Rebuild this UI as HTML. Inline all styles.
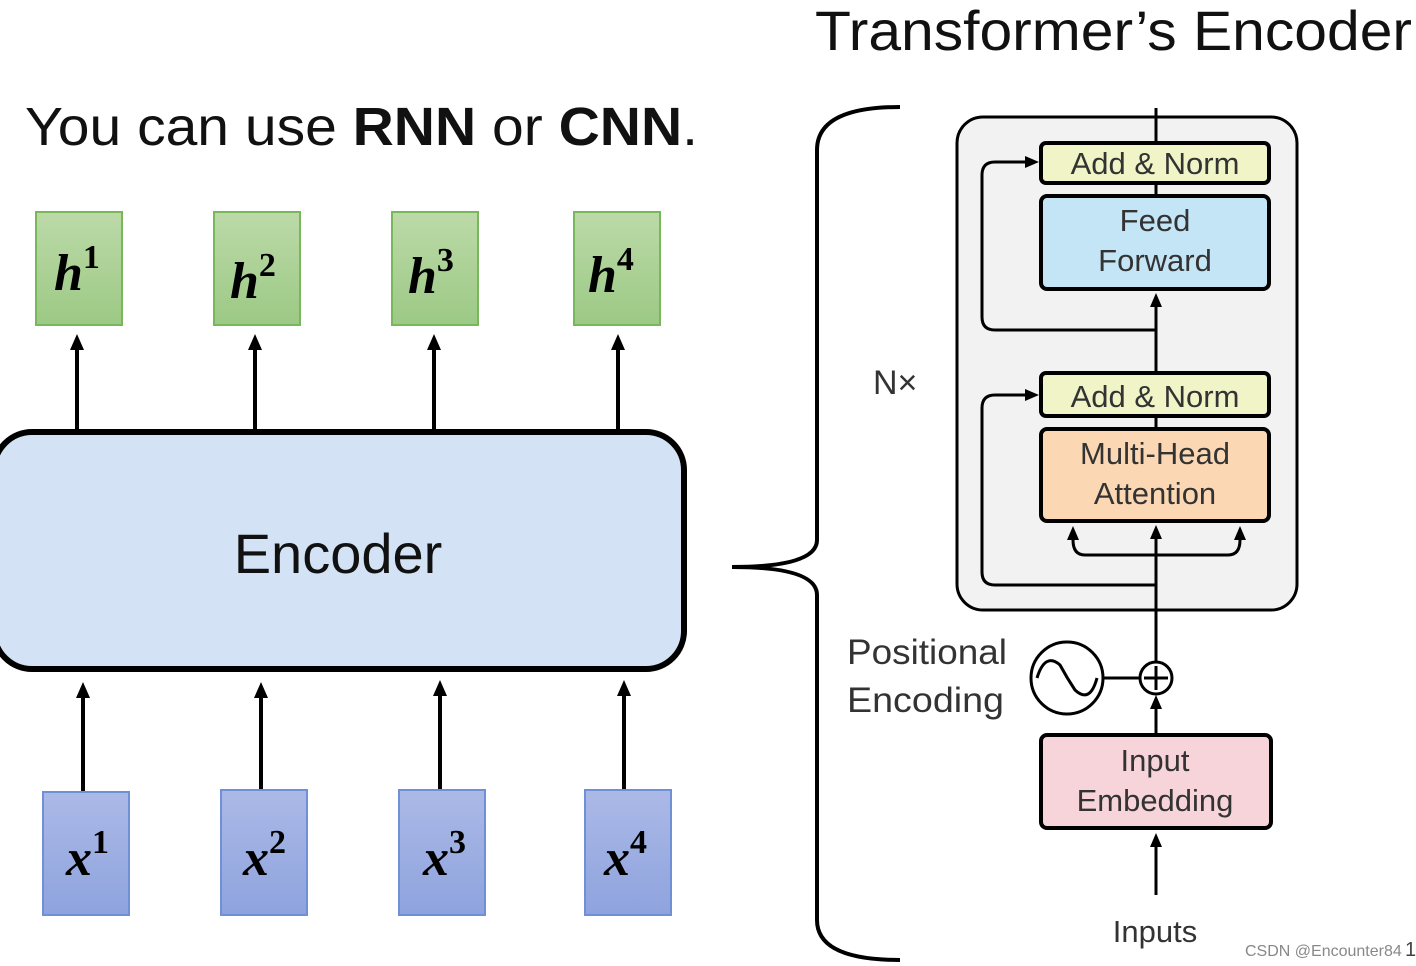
<!DOCTYPE html>
<html><head><meta charset="utf-8"><style>
html,body{margin:0;padding:0;background:#fff;width:1416px;height:966px;overflow:hidden}
svg{display:block}
</style></head><body>
<svg width="1416" height="966" viewBox="0 0 1416 966" xmlns="http://www.w3.org/2000/svg">
<defs>
<marker id="a" markerWidth="14" markerHeight="14" refX="7" refY="7" orient="auto" markerUnits="userSpaceOnUse"><path d="M0,1 L14,7 L0,13 z" fill="#000"/></marker>
<marker id="b" markerWidth="16" markerHeight="16" refX="8" refY="8" orient="auto" markerUnits="userSpaceOnUse"><path d="M0,1 L16,8 L0,15 z" fill="#000"/></marker>
<linearGradient id="g" x1="0" y1="0" x2="0" y2="1"><stop offset="0" stop-color="#bcdaa8"/><stop offset="1" stop-color="#9cc985"/></linearGradient>
<linearGradient id="bl" x1="0" y1="0" x2="0" y2="1"><stop offset="0" stop-color="#abb9e6"/><stop offset="1" stop-color="#8ea3de"/></linearGradient>
</defs>
<text x="815" y="50" font-family="Liberation Sans, sans-serif" font-size="56" fill="#111" textLength="597" lengthAdjust="spacingAndGlyphs">Transformer’s Encoder</text>
<text x="25" y="145" font-family="Liberation Sans, sans-serif" font-size="54" fill="#111" textLength="673" lengthAdjust="spacingAndGlyphs">You can use <tspan font-weight="bold">RNN</tspan> or <tspan font-weight="bold">CNN</tspan>.</text>

<g stroke="#78b85a" stroke-width="2" fill="url(#g)">
<rect x="36" y="212" width="86" height="113"/><rect x="214" y="212" width="86" height="113"/><rect x="392" y="212" width="86" height="113"/><rect x="574" y="212" width="86" height="113"/>
</g>
<g font-family="Liberation Serif, serif" font-style="italic" font-weight="bold" font-size="52" fill="#000">
<text x="54" y="290">h<tspan font-style="normal" font-size="34" dy="-22">1</tspan></text>
<text x="230" y="298">h<tspan font-style="normal" font-size="34" dy="-22">2</tspan></text>
<text x="408" y="293">h<tspan font-style="normal" font-size="34" dy="-22">3</tspan></text>
<text x="588" y="292">h<tspan font-style="normal" font-size="34" dy="-22">4</tspan></text>
</g>
<g stroke="#000" stroke-width="4" marker-end="url(#b)">
<line x1="77" y1="430" x2="77" y2="342"/><line x1="255" y1="430" x2="255" y2="342"/><line x1="434" y1="430" x2="434" y2="342"/><line x1="618" y1="430" x2="618" y2="342"/>
<line x1="83" y1="792" x2="83" y2="690"/><line x1="261" y1="790" x2="261" y2="690"/><line x1="440" y1="790" x2="440" y2="688"/><line x1="624" y1="790" x2="624" y2="688"/>
</g>
<rect x="-6" y="432" width="690" height="237" rx="38" fill="#d3e3f5" stroke="#000" stroke-width="6"/>
<text x="338" y="573" text-anchor="middle" font-family="Liberation Sans, sans-serif" font-size="56" fill="#111">Encoder</text>

<g stroke="#6f8fd6" stroke-width="2" fill="url(#bl)">
<rect x="43" y="792" width="86" height="123"/><rect x="221" y="790" width="86" height="125"/><rect x="399" y="790" width="86" height="125"/><rect x="585" y="790" width="86" height="125"/>
</g>
<g font-family="Liberation Serif, serif" font-style="italic" font-weight="bold" font-size="52" fill="#000">
<text x="66" y="875">x<tspan font-style="normal" font-size="34" dy="-22">1</tspan></text>
<text x="243" y="875">x<tspan font-style="normal" font-size="34" dy="-22">2</tspan></text>
<text x="423" y="875">x<tspan font-style="normal" font-size="34" dy="-22">3</tspan></text>
<text x="604" y="875">x<tspan font-style="normal" font-size="34" dy="-22">4</tspan></text>
</g>

<path d="M900,107 Q817,107 817,150 L817,540 Q817,567 732,567 Q817,567 817,595 L817,920 Q817,960 900,960" fill="none" stroke="#000" stroke-width="4"/>
<text x="873" y="394" font-family="Liberation Sans, sans-serif" font-size="34" fill="#333">N×</text>

<rect x="957" y="117" width="340" height="493" rx="26" fill="#f2f2f2" stroke="#000" stroke-width="3"/>
<g stroke="#000" stroke-width="3" fill="none">
<line x1="1156" y1="108" x2="1156" y2="143"/>
<line x1="1156" y1="183" x2="1156" y2="196"/>
<line x1="1156" y1="416" x2="1156" y2="429"/>
<line x1="1156" y1="373" x2="1156" y2="300" marker-end="url(#a)"/>
<path d="M1156,330 L995,330 Q982,330 982,317 L982,175 Q982,162 995,162 L1032,162" marker-end="url(#a)"/>
<path d="M1156,585 L995,585 Q982,585 982,572 L982,408 Q982,395 995,395 L1032,395" marker-end="url(#a)"/>
<line x1="1156" y1="662" x2="1156" y2="532" marker-end="url(#a)"/>
<path d="M1156,555 L1085,555 Q1073,555 1073,540 L1073,533" marker-end="url(#a)"/>
<path d="M1156,555 L1228,555 Q1240,555 1240,540 L1240,533" marker-end="url(#a)"/>
<line x1="1156" y1="735" x2="1156" y2="702" marker-end="url(#a)"/>
<line x1="1156" y1="895" x2="1156" y2="840" marker-end="url(#a)"/>
<line x1="1103" y1="678" x2="1140" y2="678"/>
<circle cx="1067" cy="678" r="36"/>
<path d="M1037,678 Q1045,652 1060,665 Q1067,678 1075,690 Q1090,704 1097,678"/>
<circle cx="1156" cy="678" r="16"/>
<line x1="1144" y1="678" x2="1168" y2="678"/><line x1="1156" y1="666" x2="1156" y2="690"/>
</g>
<g stroke="#000" stroke-width="4">
<rect x="1041" y="143" width="228" height="40" rx="5" fill="#f1f4c6"/>
<rect x="1041" y="196" width="228" height="93" rx="6" fill="#c3e5f6"/>
<rect x="1041" y="373" width="228" height="43" rx="5" fill="#f1f4c6"/>
<rect x="1041" y="429" width="228" height="92" rx="6" fill="#fbd8b3"/>
<rect x="1041" y="735" width="230" height="93" rx="6" fill="#f7d4da"/>
</g>
<g font-family="Liberation Sans, sans-serif" font-size="31" fill="#333" text-anchor="middle">
<text x="1155" y="174">Add &amp; Norm</text>
<text x="1155" y="231">Feed</text><text x="1155" y="271">Forward</text>
<text x="1155" y="407">Add &amp; Norm</text>
<text x="1155" y="464">Multi-Head</text><text x="1155" y="504">Attention</text>
<text x="1155" y="771">Input</text><text x="1155" y="811">Embedding</text>
<text x="1155" y="942">Inputs</text>
</g>
<g font-family="Liberation Sans, sans-serif" font-size="35" fill="#333">
<text x="847" y="664" textLength="160" lengthAdjust="spacingAndGlyphs">Positional</text><text x="847" y="712" textLength="157" lengthAdjust="spacingAndGlyphs">Encoding</text>
</g>
<text x="1245" y="956" font-family="Liberation Sans, sans-serif" font-size="16" fill="#888">CSDN @Encounter84</text>
<text x="1405" y="956" font-family="Liberation Sans, sans-serif" font-size="20" fill="#444">1</text>
</svg>
</body></html>
